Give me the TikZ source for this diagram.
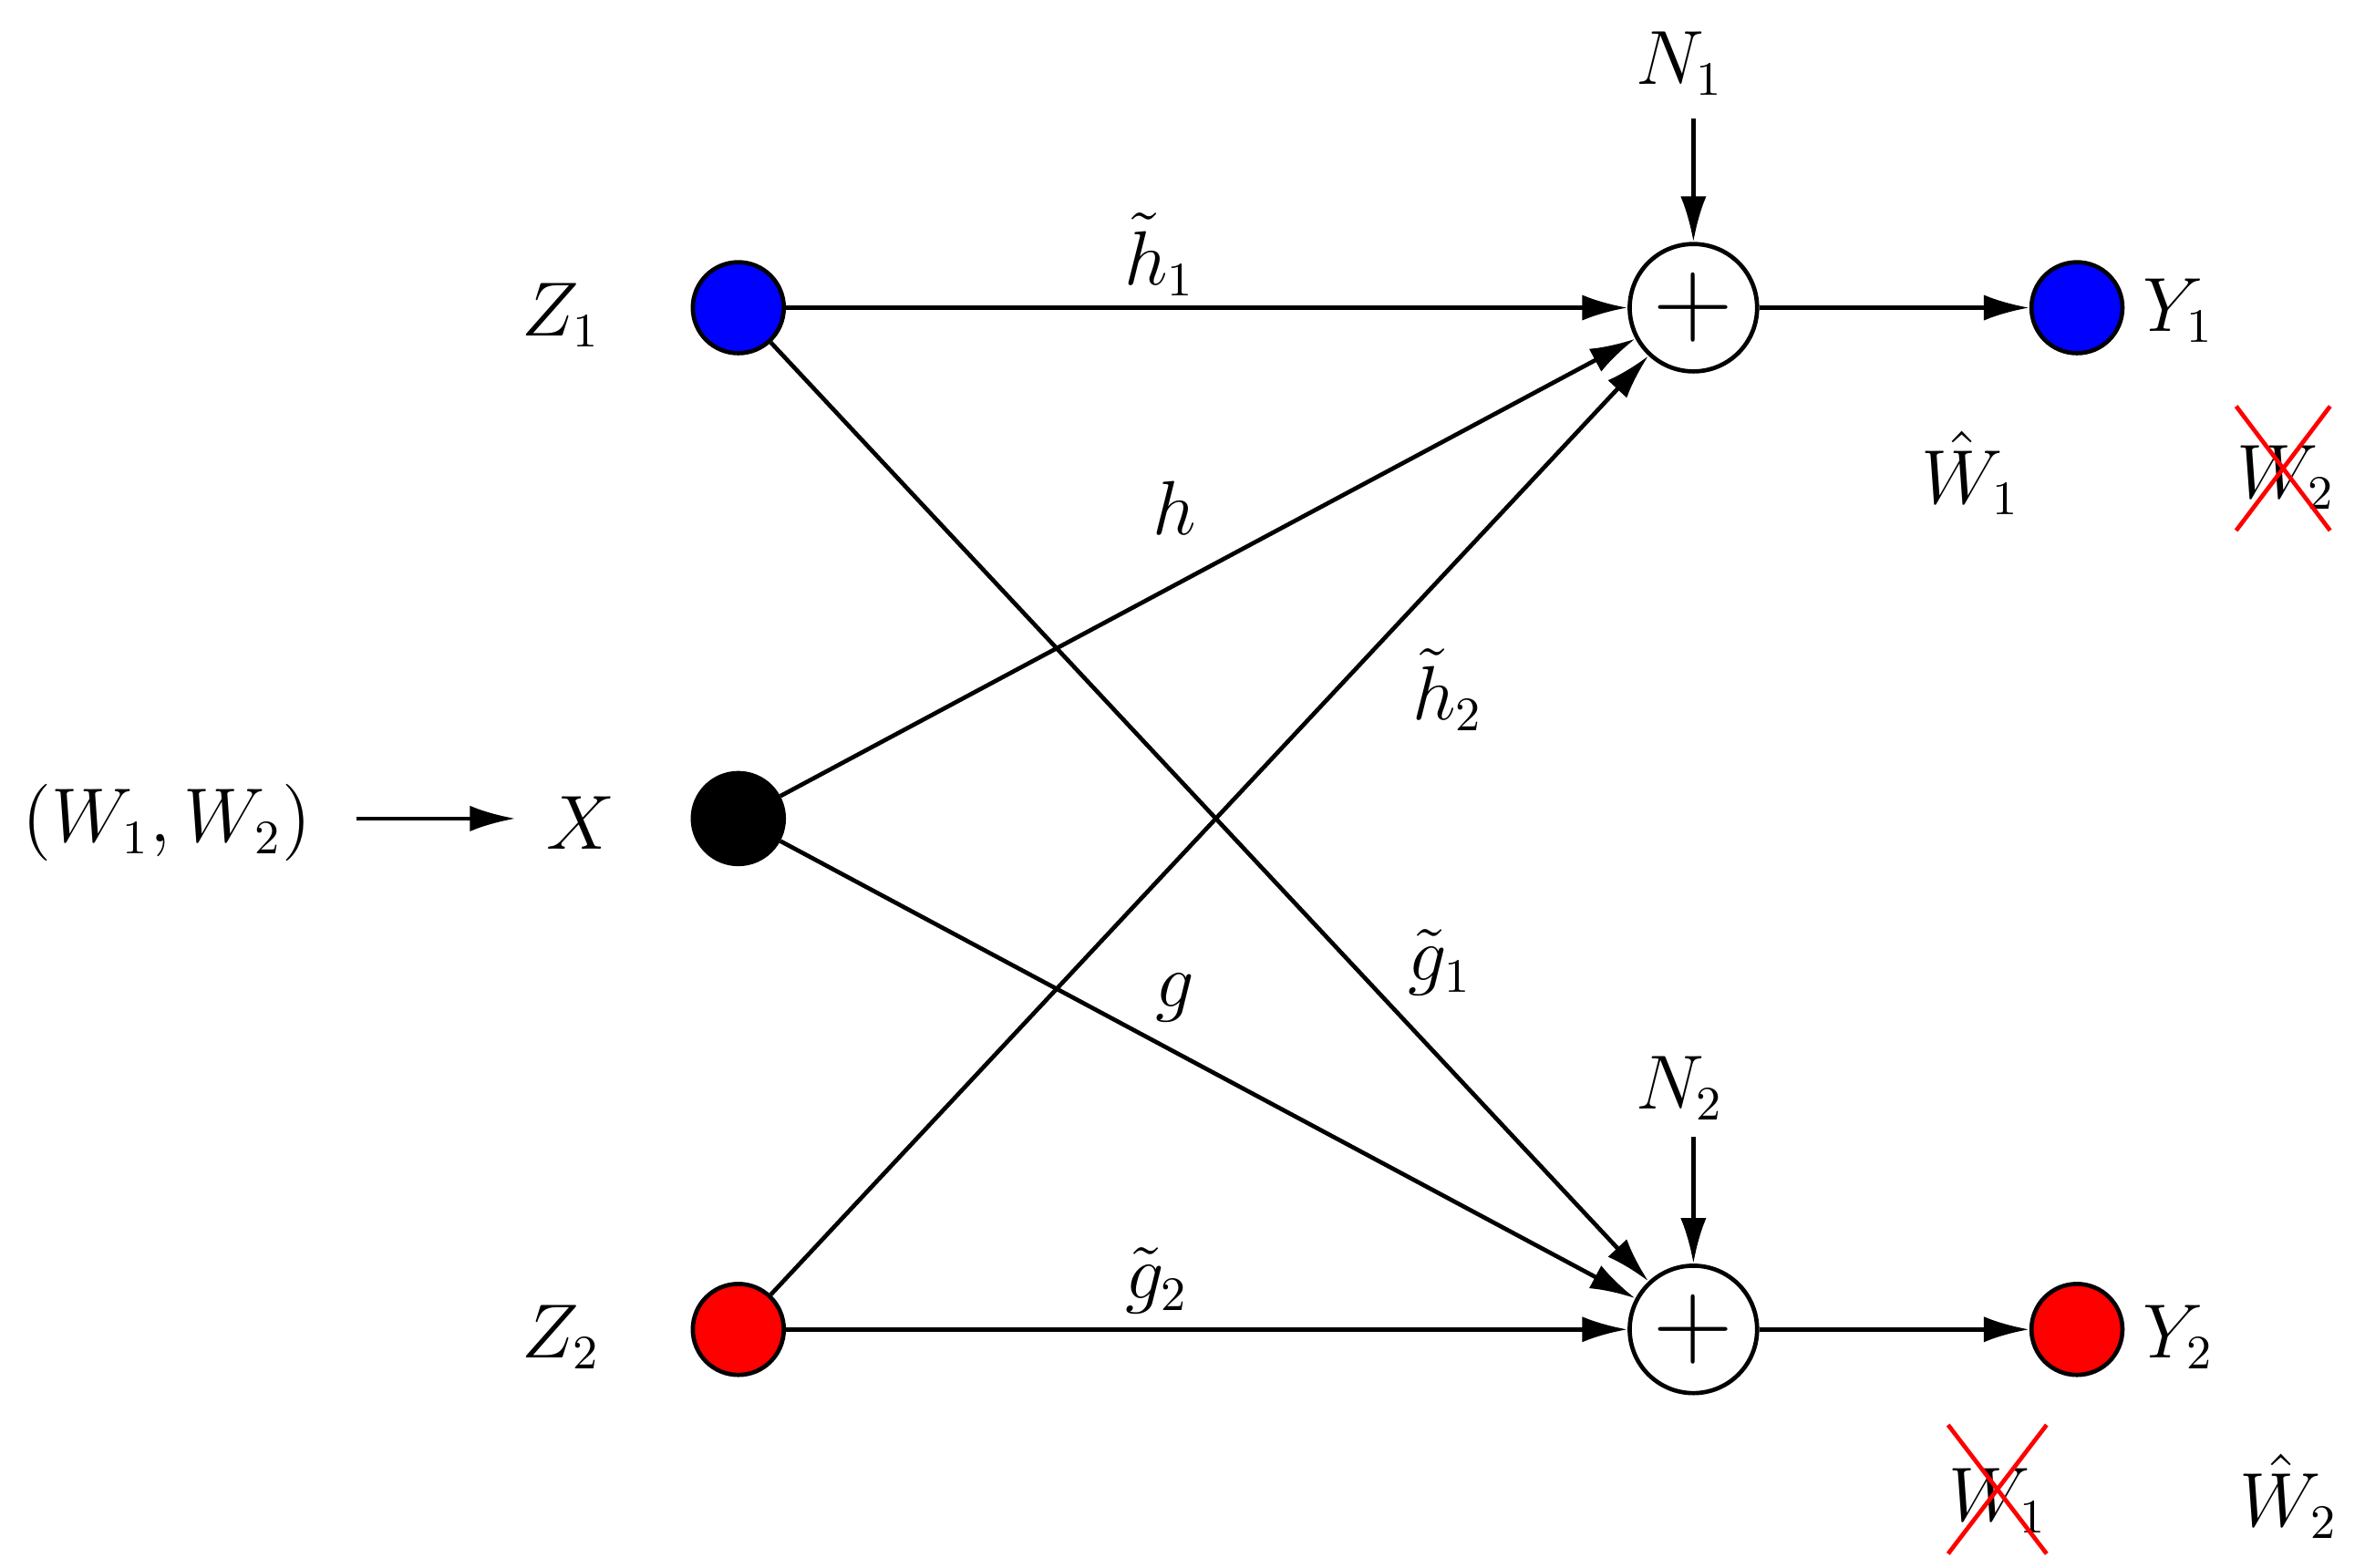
\documentclass[tikz,border=0pt]{standalone}
\usetikzlibrary{arrows.meta}
\begin{document}
\begin{tikzpicture}[x=0.01cm,y=-0.01cm,
  every node/.style={font=\fontsize{13.5}{16}\selectfont},
  dot/.style={circle,draw,line width=0.8pt,minimum size=0.6cm,inner sep=0pt},
  sum/.style={circle,draw,line width=0.8pt,minimum size=0.84cm,inner sep=0pt,font=\fontsize{22}{24}\selectfont},
  arr/.style={line width=0.8pt,-{Latex[length=0.3cm,width=0.17cm]}},
  cross/.style={red,line width=0.8pt}]
\useasboundingbox (0,0) rectangle (1560,1034);
\node[dot,fill=blue] (z1) at (487,203) {};
\node[dot,fill=black] (x) at (487,540) {};
\node[dot,fill=red] (z2) at (487,877) {};
\node[sum] (s1) at (1117,203) {$+$};
\node[sum] (s2) at (1117,877) {$+$};
\node[dot,fill=blue] (y1) at (1370,203) {};
\node[dot,fill=red] (y2) at (1370,877) {};
\node (lz1) at (370,208) {$Z_1$};
\node (lx) at (383,543) {$X$};
\node (lz2) at (370,882) {$Z_2$};
\node (w) at (110,543) {$(W_1,W_2)$};
\coordinate (wa) at (235,540);
\coordinate (wb) at (340,540);
\draw[arr] (wa) -- (wb);
\node (n1) at (1108,42) {$N_1$};
\node (n2) at (1108,718) {$N_2$};
\coordinate (n1a) at (1117,78);
\coordinate (n2a) at (1117,750);
\draw[arr] (n1a) -- (s1);
\draw[arr] (n2a) -- (s2);
\node (ly1) at (1437,205) {$Y_1$};
\node (ly2) at (1437,882) {$Y_2$};
\node (wh1) at (1300,312) {$\hat W_1$};
\node (wx2) at (1508,315) {$W_2$};
\draw[cross] (1475,350) -- (1537,268) (1475,268) -- (1537,350);
\node (wx1) at (1318,990) {$W_1$};
\draw[cross] (1285,1025) -- (1350,940) (1285,940) -- (1350,1025);
\node (wh2) at (1510,987) {$\hat W_2$};
\draw[arr] (z1) -- (s1);
\draw[arr] (z1) -- (s2);
\draw[arr] (x) -- (s1);
\draw[arr] (x) -- (s2);
\draw[arr] (z2) -- (s1);
\draw[arr] (z2) -- (s2);
\draw[arr] (s1) -- (y1);
\draw[arr] (s2) -- (y2);
\node at (765,168) {$\tilde h_1$};
\node at (775,335) {$h$};
\node at (955,455) {$\tilde h_2$};
\node at (950,635) {$\tilde g_1$};
\node at (775,658) {$g$};
\node at (763,845) {$\tilde g_2$};
\end{tikzpicture}
\end{document}
